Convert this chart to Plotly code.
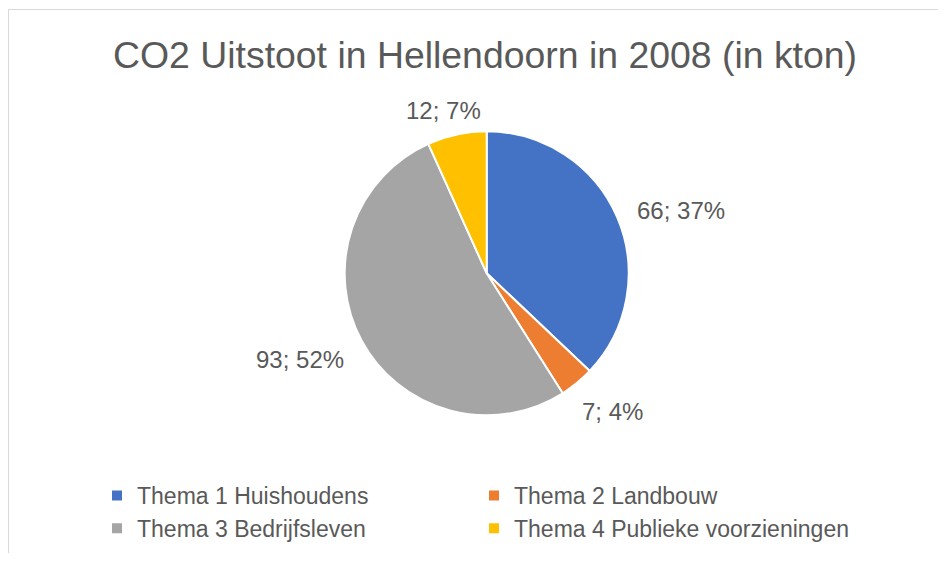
import math
import plotly.graph_objects as go

categories = ["Thema 1 Huishoudens", "Thema 2 Landbouw", "Thema 3 Bedrijfsleven", "Thema 4 Publieke voorzieningen"]
values = [66, 7, 93, 12]
colors = ["#4472C4", "#ED7D31", "#A5A5A5", "#FFC000"]
title_text = "CO2 Uitstoot in Hellendoorn in 2008 (in kton)"

# page is 946x561; the html body has an 8px margin, so the figure is a bit smaller
OFF = 8
W, H = 946 - 2 * OFF, 561 - 2 * OFF
cx, cy, r = 486.7 - OFF, 273.3 - OFF, 142.0  # pie centre and radius (figure pixels)
text_color = "#595959"
font_family = "Liberation Sans, Arial, sans-serif"

# approximate Arial advance widths (em) used to centre outside labels
CHAR_W = {**{d: 0.556 for d in "0123456789"}, ";": 0.278, " ": 0.278, "%": 0.889}
LABEL_SIZE = 24


def text_width(s, size):
    return sum(CHAR_W.get(c, 0.556) for c in s) * size


fig = go.Figure()
fig.add_trace(go.Pie(
    labels=categories,
    values=values,
    sort=False,
    direction="clockwise",
    rotation=0,
    marker=dict(colors=colors, line=dict(color="white", width=2)),
    textinfo="none",
    hoverinfo="label+value+percent",
    domain=dict(x=[(cx - r) / W, (cx + r) / W], y=[(H - cy - r) / H, (H - cy + r) / H]),
))

# data labels placed outside the slices, along each slice's mid-angle
total = sum(values)
annotations = []
cum = 0.0
gx, gy = 26, 16
for v in values:
    mid = (cum + v / 2) / total * 2 * math.pi
    cum += v
    dx, dy = math.sin(mid), math.cos(mid)
    txt = f"{v}; {round(v / total * 100)}%"
    w = text_width(txt, LABEL_SIZE)
    h = 28
    px = cx + (r + gx + w / 2) * dx
    py = cy - (r + gy + h / 2) * dy + 5
    annotations.append(dict(
        x=px / W, y=1 - py / H, xref="paper", yref="paper",
        text=txt, showarrow=False,
        xanchor="center", yanchor="middle",
        font=dict(size=LABEL_SIZE, color=text_color, family=font_family),
    ))

border = dict(color="#D9D9D9", width=1)
fig.update_layout(
    width=W, height=H,
    margin=dict(l=0, r=0, t=0, b=0),
    paper_bgcolor="white",
    plot_bgcolor="white",
    title=dict(
        text=title_text, x=(485 - OFF) / W, xanchor="center", xref="paper",
        y=1 - 47 / H, yanchor="middle", yref="container",
        font=dict(size=37.4, color=text_color, family=font_family),
    ),
    annotations=annotations,
    showlegend=True,
    legend=dict(
        orientation="h",
        x=89 / W, xanchor="left",
        y=1 - 466 / H, yanchor="top",
        entrywidth=332, entrywidthmode="pixels",
        font=dict(size=23, color=text_color, family=font_family),
        traceorder="normal",
    ),
    shapes=[
        dict(type="line", xref="paper", yref="paper",
             x0=0.5 / W, x1=1, y0=1 - 1.5 / H, y1=1 - 1.5 / H, line=border, layer="below"),
        dict(type="line", xref="paper", yref="paper",
             x0=0.5 / W, x1=0.5 / W, y0=0, y1=1 - 1.5 / H, line=border, layer="below"),
    ],
)

fig.write_html("out.html")
